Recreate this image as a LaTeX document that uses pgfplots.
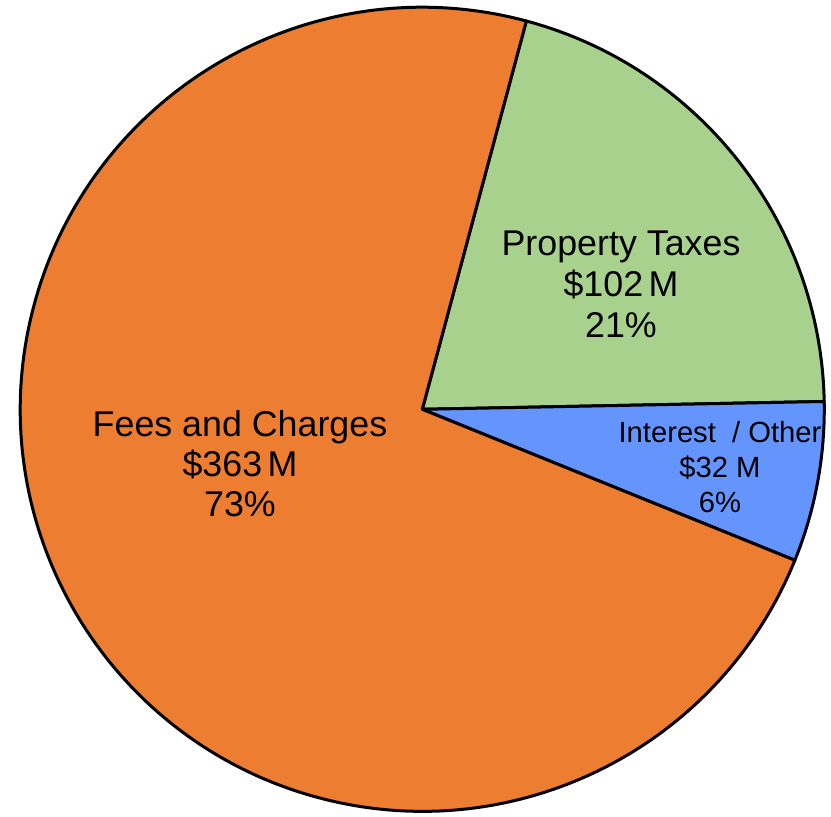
\documentclass[border=0pt]{standalone}
\usepackage{pgfplots}
\usepackage{pgfplotstable}
\pgfplotsset{compat=1.18}
\usepackage{fontspec}
\setmainfont{Liberation Sans}
\definecolor{cFees}{HTML}{ED7D31}
\definecolor{cProp}{HTML}{A9D18E}
\definecolor{cInt}{HTML}{6494FE}
\pgfplotstableread{
label value
Property 102
Interest 32
Fees 363
}\piedata
\begin{document}
\begin{tikzpicture}
\pgfplotstablegetelem{0}{value}\of\piedata \let\va\pgfplotsretval
\pgfplotstablegetelem{1}{value}\of\piedata \let\vb\pgfplotsretval
\pgfplotstablegetelem{2}{value}\of\piedata \let\vc\pgfplotsretval
\def\cx{422.3}\def\cy{406.7}\def\R{402}
\pgfmathsetmacro\tot{\va+\vb+\vc}
\pgfmathsetmacro\fa{\va/\tot}
\pgfmathsetmacro\fb{\vb/\tot}
\pgfmathsetmacro\aA{75}
\pgfmathsetmacro\aB{\aA-360*\fa}
\pgfmathsetmacro\aC{\aB-360*\fb}
\pgfmathsetmacro\aD{\aA-360}
\pgfmathsetmacro\xA{\cx+\R*cos(\aA)}\pgfmathsetmacro\yA{\cy+\R*sin(\aA)}
\pgfmathsetmacro\xB{\cx+\R*cos(\aB)}\pgfmathsetmacro\yB{\cy+\R*sin(\aB)}
\pgfmathsetmacro\xC{\cx+\R*cos(\aC)}\pgfmathsetmacro\yC{\cy+\R*sin(\aC)}
\begin{axis}[
  scale only axis, width=415.5pt, height=408pt,
  xmin=0, xmax=831, ymin=0, ymax=816,
  hide axis, clip=false,
]
\addplot[fill=cProp, draw=black, line width=1.5pt, line join=round]
  coordinates {(\xA,\yA) (\cx,\cy) (\xB,\yB)}
  arc[start angle=\aB, end angle=\aA, radius=201pt] -- cycle;
\addplot[fill=cInt, draw=black, line width=1.5pt, line join=round]
  coordinates {(\xB,\yB) (\cx,\cy) (\xC,\yC)}
  arc[start angle=\aC, end angle=\aB, radius=201pt] -- cycle;
\addplot[fill=cFees, draw=black, line width=1.5pt, line join=round]
  coordinates {(\xC,\yC) (\cx,\cy) (\xA,\yA)}
  arc[start angle=\aD, end angle=\aC, radius=201pt] -- cycle;
\node[align=center, font=\fontsize{17.9}{20}\selectfont] at (axis cs:240,352)
  {Fees and Charges\\\$363\hspace{0.15em}M\\73\%};
\node[align=center, font=\fontsize{17.9}{20.5}\selectfont] at (axis cs:621,532)
  {Property Taxes\\\$102\hspace{0.15em}M\\21\%};
\node[align=center, font=\fontsize{14.6}{17.5}\selectfont] at (axis cs:720,349)
  {Interest\ \ / Other\\\$32 M\\6\%};
\end{axis}
\pgfresetboundingbox
\path (current axis.south west) rectangle (current axis.north east);
\end{tikzpicture}
\end{document}
